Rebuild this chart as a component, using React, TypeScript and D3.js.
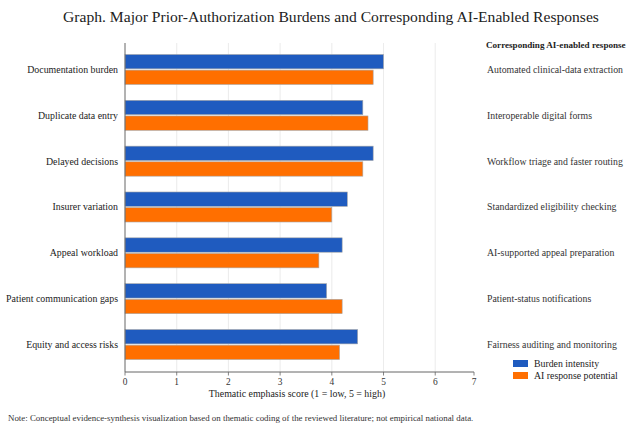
import React from "react";
import * as d3 from "d3";

const categories = [
  "Documentation burden",
  "Duplicate data entry",
  "Delayed decisions",
  "Insurer variation",
  "Appeal workload",
  "Patient communication gaps",
  "Equity and access risks",
];
const responses = [
  "Automated clinical-data extraction",
  "Interoperable digital forms",
  "Workflow triage and faster routing",
  "Standardized eligibility checking",
  "AI-supported appeal preparation",
  "Patient-status notifications",
  "Fairness auditing and monitoring",
];
const burdenIntensity = [5.0, 4.6, 4.8, 4.3, 4.2, 3.9, 4.5];
const aiResponsePotential = [4.8, 4.7, 4.6, 4.0, 3.75, 4.2, 4.15];
const seriesNames = ["Burden intensity", "AI response potential"];
const seriesColors = ["#1f5bbf", "#ff6f00"];
const tickValues = [0, 1, 2, 3, 4, 5, 6, 7];

const W = 629;
const H = 426;
const FONT = "'Liberation Serif', serif";

export default function App() {
  const left = 125;
  const right = 474;
  const top = 43;
  const bottom = 372;
  // axis domain: the "7" label sits at the end of the axis
  const xMax = 6.75;
  const x = d3.scaleLinear().domain([0, xMax]).range([left, right]);
  const y = d3
    .scaleBand<string>()
    .domain(categories)
    .range([top, bottom - 1])
    .paddingInner(0.345)
    .paddingOuter(0.25);
  const inner = d3
    .scaleBand<string>()
    .domain(seriesNames)
    .range([0, y.bandwidth()])
    .paddingInner(0.08);
  const series = [burdenIntensity, aiResponsePotential];
  const tickPos = (t: number) => x(Math.min(t, xMax));

  return (
    <svg
      width={W}
      height={H}
      style={{ position: "absolute", left: 0, top: 0, background: "#fff", fontFamily: FONT }}
    >
      <rect x={0} y={0} width={W} height={H} fill="#fff" />
      <text x={331} y={22} textAnchor="middle" fontSize={15.6} fill="#222">
        Graph. Major Prior-Authorization Burdens and Corresponding AI-Enabled Responses
      </text>

      {/* gridlines */}
      {tickValues
        .filter((t) => t > 0 && t < 7)
        .map((t) => (
          <line
            key={"g" + t}
            x1={tickPos(t)}
            x2={tickPos(t)}
            y1={top}
            y2={bottom}
            stroke="#e6e6e6"
            strokeWidth={0.8}
          />
        ))}

      {/* bars */}
      {categories.map((c, i) => (
        <g key={c}>
          {series.map((s, j) => (
            <rect
              key={j}
              x={x(0)}
              y={(y(c) as number) + (inner(seriesNames[j]) as number)}
              width={x(s[i]) - x(0)}
              height={inner.bandwidth()}
              fill={seriesColors[j]}
              stroke="#a8a8a8"
              strokeWidth={0.6}
            />
          ))}
          <text
            x={118}
            y={(y(c) as number) + y.bandwidth() / 2}
            dy="0.35em"
            textAnchor="end"
            fontSize={9.9}
            fill="#222"
          >
            {c}
          </text>
          <text
            x={487}
            y={(y(c) as number) + y.bandwidth() / 2}
            dy="0.35em"
            fontSize={9.8}
            fill="#333"
          >
            {responses[i]}
          </text>
        </g>
      ))}

      {/* spines */}
      <line x1={left} x2={left} y1={top} y2={bottom} stroke="#666" strokeWidth={1} />
      <line x1={left} x2={right} y1={bottom} y2={bottom} stroke="#666" strokeWidth={1} />

      {/* ticks */}
      {tickValues.map((t) => (
        <g key={"t" + t} transform={`translate(${tickPos(t)},${bottom})`}>
          <line y1={0} y2={3.5} stroke="#666" strokeWidth={0.8} />
          <text y={13} textAnchor="middle" fontSize={9.4} fill="#333">
            {t}
          </text>
        </g>
      ))}
      <text x={297} y={397} textAnchor="middle" fontSize={9.9} fill="#222">
        Thematic emphasis score (1 = low, 5 = high)
      </text>

      {/* right header */}
      <text x={486} y={48} fontSize={9.1} fontWeight="bold" fill="#222">
        Corresponding AI-enabled response
      </text>

      {/* legend */}
      {seriesNames.map((n, j) => (
        <g key={n} transform={`translate(513,${360 + j * 12})`}>
          <rect width={15} height={7} fill={seriesColors[j]} />
          <text x={21} y={3.5} dy="0.35em" fontSize={9.8} fill="#222">
            {n}
          </text>
        </g>
      ))}

      <text x={8} y={421} fontSize={8.9} fill="#333">
        Note: Conceptual evidence-synthesis visualization based on thematic coding of the reviewed literature; not empirical national data.
      </text>
    </svg>
  );
}
